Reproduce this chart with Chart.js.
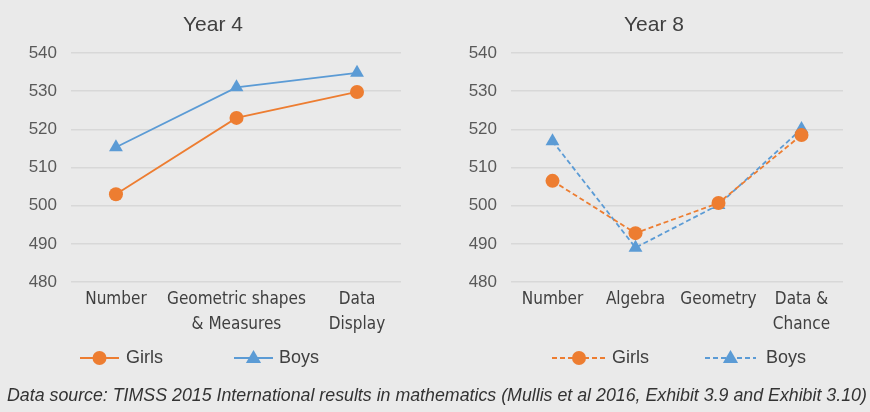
<!DOCTYPE html>
<html>
<head>
<meta charset="utf-8">
<script src="https://cdn.jsdelivr.net/npm/chart.js@4.4.1/dist/chart.umd.min.js"></script>
<style>
  body { margin: 0; background: #eaeaea; width: 870px; height: 412px; overflow: hidden; position: relative; font-family: "Liberation Sans", Arial, sans-serif; }
  .box { position: absolute; top: 0; width: 435px; height: 412px; }
  .title { position: absolute; top: 12px; font-size: 21px; line-height: 24px; color: #404040; transform: translateX(-50%); white-space: nowrap; }
  .source { position: absolute; left: 7px; top: 384px; font-size: 17.8px; line-height: 22px; font-style: italic; color: #333; white-space: nowrap; }
</style>
</head>
<body>
<div class="box" style="left:0"><canvas id="c4" width="435" height="412"></canvas></div>
<div class="box" style="left:435px"><canvas id="c8" width="435" height="412"></canvas></div>
<div class="title" style="left:213px">Year 4</div>
<div class="title" style="left:654px">Year 8</div>
<div class="source">Data source: TIMSS 2015 International results in mathematics (Mullis et al 2016, Exhibit 3.9 and Exhibit 3.10)</div>
<script>
// Year 4
const y4Labels = [['Number'], ['Geometric shapes', '& Measures'], ['Data', 'Display']];
const y4Girls = [503, 523, 529.8];
const y4Boys = [515.3, 531, 534.8];

// Year 8
const y8Labels = [['Number'], ['Algebra'], ['Geometry'], ['Data &', 'Chance']];
const y8Girls = [506.5, 492.8, 500.7, 518.5];
const y8Boys = [516.9, 489, 500.2, 520.1];

const seriesNames = ['Girls', 'Boys'];
const ORANGE = '#ed7d31', BLUE = '#5b9bd5';

// legend with line + marker, like the office style
const lineLegend = {
  id: 'lineLegend',
  afterDraw(chart, args, opts) {
    const ctx = chart.ctx;
    chart.data.datasets.forEach((ds, i) => {
      const it = opts.items[i];
      ctx.save();
      ctx.strokeStyle = ds.borderColor;
      ctx.lineWidth = ds.borderWidth;
      ctx.setLineDash(ds.borderDash || []);
      ctx.beginPath();
      ctx.moveTo(it.x0, opts.y);
      ctx.lineTo(it.x1, opts.y);
      ctx.stroke();
      ctx.setLineDash([]);
      const cx = (it.x0 + it.x1) / 2;
      ctx.fillStyle = ds.pointBackgroundColor;
      ctx.beginPath();
      if (ds.pointStyle === 'triangle') {
        const r = ds.pointRadius;
        ctx.moveTo(cx, opts.y - r);
        ctx.lineTo(cx + r * 0.95, opts.y + r * 0.62);
        ctx.lineTo(cx - r * 0.95, opts.y + r * 0.62);
        ctx.closePath();
      } else {
        ctx.arc(cx, opts.y, ds.pointRadius, 0, Math.PI * 2);
      }
      ctx.fill();
      ctx.fillStyle = '#404040';
      ctx.font = '18px "Liberation Sans", Arial, sans-serif';
      ctx.textBaseline = 'middle';
      ctx.fillText(ds.label, it.tx, opts.y);
      ctx.restore();
    });
  }
};

function dataset(name, values, color, style, dashed, linearX) {
  return {
    label: name,
    data: linearX ? values.map((v, i) => ({ x: i, y: v })) : values,
    borderColor: color,
    backgroundColor: color,
    pointBackgroundColor: color,
    pointBorderColor: color,
    borderWidth: 1.8,
    borderDash: dashed ? [5, 3] : [],
    pointStyle: style,
    pointRadius: style === 'triangle' ? 8 : 7,
    pointBorderWidth: 0,
    tension: 0
  };
}

function yScale(width) {
  return {
    min: 480, max: 540,
    ticks: { stepSize: 10, color: '#595959', padding: 14, font: { size: 17, family: '"Liberation Sans", Arial, sans-serif' } },
    grid: { color: '#d8d8d8', lineWidth: 1.5, drawTicks: false },
    border: { display: false },
    afterFit(s) { s.width = width; }
  };
}

// narrow category labels: the weight slot carries the stretch keyword
const xTickStyle = {
  color: '#404040', padding: 5, maxRotation: 0, autoSkip: false,
  font: { size: 17, weight: 'condensed', family: '"DejaVu Sans", sans-serif', lineHeight: 1.47 }
};

new Chart(document.getElementById('c4'), {
  type: 'line',
  data: {
    datasets: [
      dataset(seriesNames[0], y4Girls, ORANGE, 'circle', false, true),
      dataset(seriesNames[1], y4Boys, BLUE, 'triangle', false, true)
    ]
  },
  options: {
    responsive: false, animation: false,
    layout: { padding: { top: 53, bottom: 30, left: 0, right: 34 } },
    plugins: {
      legend: { display: false }, tooltip: { enabled: false },
      lineLegend: { y: 358, items: [{ x0: 80, x1: 119, tx: 126 }, { x0: 234, x1: 273, tx: 279 }] }
    },
    scales: {
      x: {
        type: 'linear', min: -0.373, max: 2.365,
        afterBuildTicks(s) { s.ticks = y4Labels.map((l, i) => ({ value: i })); },
        ticks: Object.assign({}, xTickStyle, { callback: (v) => y4Labels[v] }),
        grid: { display: false, drawTicks: false },
        border: { display: false },
        afterFit(s) { s.height = 100; }
      },
      y: yScale(71)
    }
  },
  plugins: [lineLegend]
});

new Chart(document.getElementById('c8'), {
  type: 'line',
  data: {
    labels: y8Labels,
    datasets: [
      dataset(seriesNames[0], y8Girls, ORANGE, 'circle', true, false),
      dataset(seriesNames[1], y8Boys, BLUE, 'triangle', true, false)
    ]
  },
  options: {
    responsive: false, animation: false,
    layout: { padding: { top: 53, bottom: 30, left: 0, right: 27 } },
    plugins: {
      legend: { display: false }, tooltip: { enabled: false },
      lineLegend: { y: 358, items: [{ x0: 117, x1: 171, tx: 177 }, { x0: 270, x1: 321, tx: 331 }] }
    },
    scales: {
      x: {
        offset: true,
        ticks: xTickStyle,
        grid: { display: false, drawTicks: false },
        border: { display: false },
        afterFit(s) { s.height = 100; }
      },
      y: yScale(76)
    }
  },
  plugins: [lineLegend]
});
</script>
</body>
</html>
